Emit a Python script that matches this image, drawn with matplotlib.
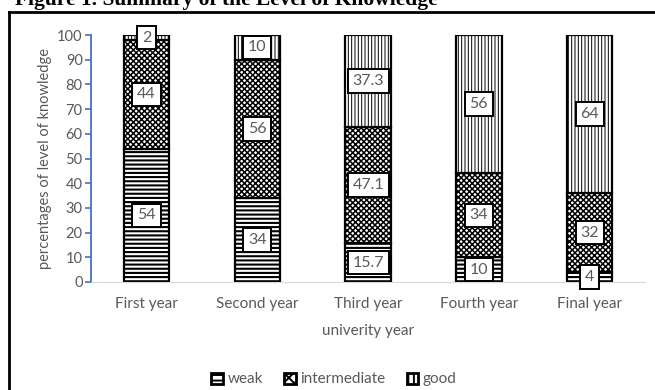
import matplotlib.pyplot as plt
import matplotlib.patches as mpatches
from matplotlib.lines import Line2D

plt.rcParams['font.family'] = ['Lato', 'DejaVu Sans']
plt.rcParams['hatch.linewidth'] = 1.4
plt.rcParams['hatch.color'] = 'black'

# data
years = ['First year', 'Second year', 'Third year', 'Fourth year', 'Final year']
weak = [54, 34, 15.7, 10, 4]
intermediate = [44, 56, 47.1, 34, 32]
good = [2, 10, 37.3, 56, 64]

# name, values, hatch, hatch line width
series = [('weak', weak, '----', 1.5),
          ('intermediate', intermediate, 'xxxxxx', 1.1),
          ('good', good, '|||||', 0.7)]

grey = '#595959'
fig = plt.figure(figsize=(6.55, 3.9), dpi=100)
ax = fig.add_axes([0.139, 0.277, 0.846, 0.633])

x = range(len(years))
bottom = [0] * len(years)
handles = []
for name, vals, hatch, hlw in series:
    bars = ax.bar(x, vals, width=0.41, bottom=bottom, color='white',
                  edgecolor='black', linewidth=1.6, hatch=hatch, zorder=2)
    for i, b in enumerate(bars):
        if hasattr(b, 'set_hatch_linewidth'):
            b.set_hatch_linewidth(hlw)
        txt = f'{vals[i]:g}'
        ax.text(b.get_x() + b.get_width() / 2, bottom[i] + vals[i] / 2, txt,
                ha='center', va='center', fontsize=11.5, color=grey, zorder=5,
                bbox=dict(boxstyle='square,pad=0.3', fc='white',
                          ec='black', lw=1.4))
    bottom = [bottom[i] + vals[i] for i in range(len(years))]
    h = mpatches.Patch(facecolor='white', edgecolor='black',
                       hatch=hatch[:3], linewidth=2, label=name)
    handles.append(h)

ax.set_xlim(-0.5, 4.5)
ax.set_ylim(0, 100)
ax.set_yticks(range(0, 101, 10))
ax.set_xticks(list(x))
ax.set_xticklabels(years)
ax.tick_params(axis='x', length=0, labelsize=11, labelcolor=grey, pad=11)
ax.tick_params(axis='y', length=4, labelsize=10.5, labelcolor=grey,
               color='#4472C4', width=1.2, pad=2)
for s in ['top', 'right']:
    ax.spines[s].set_visible(False)
ax.spines['left'].set_color('#4472C4')
ax.spines['left'].set_linewidth(1.3)
ax.spines['bottom'].set_color('#D9D9D9')
ax.set_xlabel('univerity year', fontsize=11, color=grey, labelpad=9)
ax.set_ylabel('percentages of level of knowledge', fontsize=10.5,
              color=grey, labelpad=4)

fig.legend(handles=handles, loc='center', bbox_to_anchor=(0.51, 0.027),
           ncol=3, frameon=False, fontsize=11, labelcolor=grey,
           handlelength=0.75, handleheight=0.75, handletextpad=0.3,
           columnspacing=1.4)

# figure caption and frame
fig.text(15 / 655, 0.988, 'Figure 1. Summary of the Level of Knowledge',
         fontsize=15.5, fontweight='bold', family='Liberation Serif',
         ha='left', va='baseline')
fig.add_artist(Line2D([9 / 655, 1.0], [1 - 12 / 390, 1 - 12 / 390],
                      color='black', lw=2, transform=fig.transFigure))
fig.add_artist(Line2D([9 / 655, 9 / 655], [0, 1 - 12 / 390],
                      color='black', lw=2, transform=fig.transFigure))

plt.savefig('out.png', dpi=100)
